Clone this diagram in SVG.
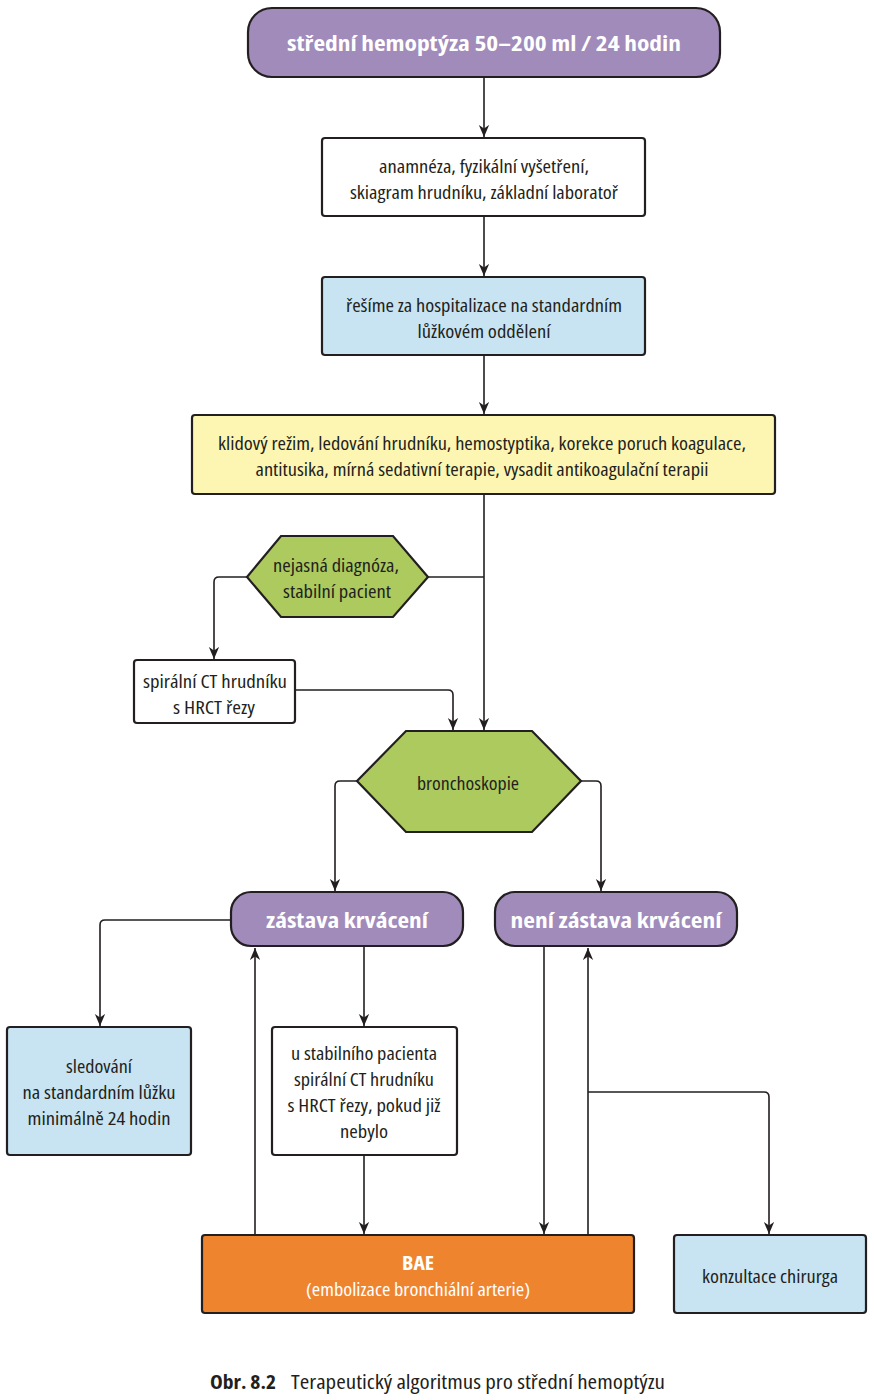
<svg xmlns="http://www.w3.org/2000/svg" width="874" height="1400" viewBox="0 0 874 1400">
<defs>
<marker id="ah" viewBox="0 0 12 14" refX="14" refY="6" markerWidth="14" markerHeight="12" markerUnits="userSpaceOnUse" orient="auto">
<path d="M0,0 L14,6 L0,12 L4,6 z" fill="#231f20"/>
</marker>
<style>
.n{stroke:#231f20;stroke-width:2.2}
.t{font-family:"Open Sans","Noto Sans","DejaVu Sans Condensed",sans-serif;font-stretch:condensed;font-size:17.5px;fill:#231f20;text-anchor:middle}
.b{font-family:"Open Sans","Noto Sans","DejaVu Sans Condensed",sans-serif;font-stretch:condensed;font-size:21px;font-weight:bold;fill:#ffffff;text-anchor:middle}
.c{fill:none;stroke:#231f20;stroke-width:1.6;marker-end:url(#ah)}
.l{fill:none;stroke:#231f20;stroke-width:1.6}
.purple{fill:#a08bba}.blue{fill:#c8e4f3}.white{fill:#ffffff}.yellow{fill:#fdf6b3}.green{fill:#acca5e}.orange{fill:#ef842f}
</style>
</defs>
<rect width="874" height="1400" fill="#ffffff"/>
<g id="connectors">
<path class="c" d="M484,77 V137"/>
<path class="c" d="M484,216 V276"/>
<path class="c" d="M484,355 V414"/>
<path class="c" d="M484,494 V730"/>
<path class="l" d="M428,577 H484"/>
<path class="c" d="M247,577 H219 Q214,577 214,582 V659"/>
<path class="c" d="M295,690 H448 Q453,690 453,695 V730"/>
<path class="c" d="M357,781 H340 Q335,781 335,786 V891"/>
<path class="c" d="M581,781 H596 Q601,781 601,786 V891"/>
<path class="c" d="M231,920 H105 Q100,920 100,925 V1026"/>
<path class="c" d="M364,946 V1026"/>
<path class="c" d="M364,1155 V1234"/>
<path class="c" d="M255,1235 V948"/>
<path class="c" d="M544,946 V1234"/>
<path class="c" d="M588,1235 V948"/>
<path class="c" d="M588,1092 H764 Q769,1092 769,1097 V1234"/>
</g>
<g id="n1">
<rect class="n purple" x="248" y="8" width="472" height="69" rx="24"/>
<text class="b" x="484" y="51" textLength="394" lengthAdjust="spacingAndGlyphs">střední hemoptýza 50–200 ml / 24 hodin</text>
</g>
<g id="n2">
<rect class="n white" x="322" y="138" width="323" height="78" rx="3"/>
<text class="t" x="484" y="173" textLength="210" lengthAdjust="spacingAndGlyphs">anamnéza, fyzikální vyšetření,</text>
<text class="t" x="484" y="199" textLength="268" lengthAdjust="spacingAndGlyphs">skiagram hrudníku, základní laboratoř</text>
</g>
<g id="n3">
<rect class="n blue" x="322" y="277" width="323" height="78" rx="3"/>
<text class="t" x="484" y="312" textLength="276" lengthAdjust="spacingAndGlyphs">řešíme za hospitalizace na standardním</text>
<text class="t" x="484" y="338" textLength="133" lengthAdjust="spacingAndGlyphs">lůžkovém oddělení</text>
</g>
<g id="n4">
<rect class="n yellow" x="192" y="415" width="583" height="79" rx="3"/>
<text class="t" x="482" y="450" textLength="528" lengthAdjust="spacingAndGlyphs">klidový režim, ledování hrudníku, hemostyptika, korekce poruch koagulace,</text>
<text class="t" x="482" y="476" textLength="453" lengthAdjust="spacingAndGlyphs">antitusika, mírná sedativní terapie, vysadit antikoagulační terapii</text>
</g>
<g id="n5">
<polygon class="n green" points="247,577 281,536 393,536 428,577 393,617 281,617"/>
<text class="t" x="336" y="572" textLength="126" lengthAdjust="spacingAndGlyphs">nejasná diagnóza,</text>
<text class="t" x="337" y="598" textLength="108" lengthAdjust="spacingAndGlyphs">stabilní pacient</text>
</g>
<g id="n6">
<rect class="n white" x="134" y="660" width="161" height="63" rx="3"/>
<text class="t" x="215" y="688" textLength="144" lengthAdjust="spacingAndGlyphs">spirální CT hrudníku</text>
<text class="t" x="214" y="714" textLength="82" lengthAdjust="spacingAndGlyphs">s HRCT řezy</text>
</g>
<g id="n7">
<polygon class="n green" points="357,781 406,731 532,731 581,781 532,832 406,832"/>
<text class="t" x="468" y="790" textLength="102" lengthAdjust="spacingAndGlyphs">bronchoskopie</text>
</g>
<g id="n8">
<rect class="n purple" x="231" y="892" width="232" height="54" rx="20"/>
<text class="b" x="347" y="928" textLength="162" lengthAdjust="spacingAndGlyphs">zástava krvácení</text>
</g>
<g id="n9">
<rect class="n purple" x="495" y="892" width="242" height="54" rx="20"/>
<text class="b" x="616" y="928" textLength="211" lengthAdjust="spacingAndGlyphs">není zástava krvácení</text>
</g>
<g id="n10">
<rect class="n blue" x="7" y="1027" width="184" height="128" rx="3"/>
<text class="t" x="99" y="1073" textLength="66" lengthAdjust="spacingAndGlyphs">sledování</text>
<text class="t" x="99" y="1099" textLength="153" lengthAdjust="spacingAndGlyphs">na standardním lůžku</text>
<text class="t" x="99" y="1125" textLength="143" lengthAdjust="spacingAndGlyphs">minimálně 24 hodin</text>
</g>
<g id="n11">
<rect class="n white" x="272" y="1027" width="185" height="128" rx="3"/>
<text class="t" x="364" y="1060" textLength="146" lengthAdjust="spacingAndGlyphs">u stabilního pacienta</text>
<text class="t" x="364" y="1086" textLength="140" lengthAdjust="spacingAndGlyphs">spirální CT hrudníku</text>
<text class="t" x="364" y="1112" textLength="153" lengthAdjust="spacingAndGlyphs">s HRCT řezy, pokud již</text>
<text class="t" x="364" y="1138" textLength="48" lengthAdjust="spacingAndGlyphs">nebylo</text>
</g>
<g id="n12">
<rect class="n orange" x="202" y="1235" width="432" height="78" rx="3"/>
<text class="b" x="418" y="1270" style="font-size:19px" textLength="32" lengthAdjust="spacingAndGlyphs">BAE</text>
<text class="t" x="418" y="1296" style="fill:#ffffff" textLength="224" lengthAdjust="spacingAndGlyphs">(embolizace bronchiální arterie)</text>
</g>
<g id="n13">
<rect class="n blue" x="674" y="1235" width="192" height="78" rx="3"/>
<text class="t" x="770" y="1283" textLength="136" lengthAdjust="spacingAndGlyphs">konzultace chirurga</text>
</g>
<g id="caption">
<text x="210" y="1389" style="font-family:'Open Sans','Noto Sans',sans-serif;font-stretch:condensed;font-size:19px;font-weight:bold;fill:#231f20" textLength="66" lengthAdjust="spacingAndGlyphs">Obr. 8.2</text>
<text x="291" y="1389" style="font-family:'Open Sans','Noto Sans',sans-serif;font-stretch:condensed;font-size:19px;fill:#231f20" textLength="374" lengthAdjust="spacingAndGlyphs">Terapeutický algoritmus pro střední hemoptýzu</text>
</g>
</svg>
